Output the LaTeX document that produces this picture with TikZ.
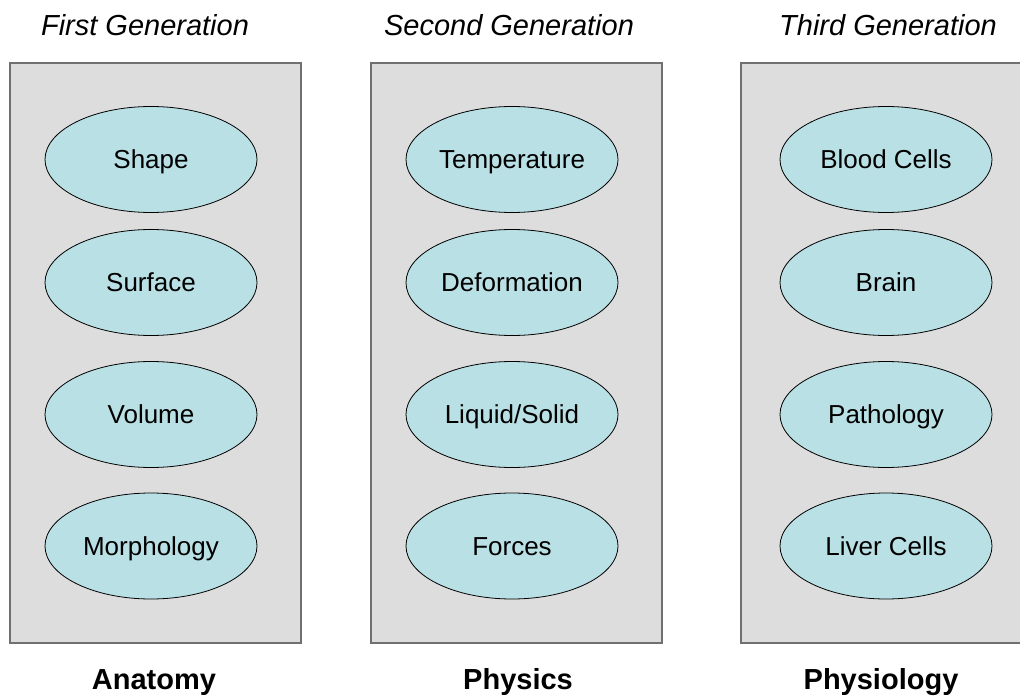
\documentclass[tikz,border=0pt]{standalone}
\usepackage{fontspec}
\setmainfont{Liberation Sans}
\usetikzlibrary{shapes.geometric}
\definecolor{panelgray}{HTML}{DDDDDD}
\definecolor{panelline}{HTML}{707070}
\definecolor{cellteal}{HTML}{B9E0E4}
\tikzset{
  panel/.style={draw=panelline, line width=1.4pt, fill=panelgray},
  cell/.style={ellipse, draw=black, line width=0.8pt, fill=cellteal,
    minimum width=212pt, minimum height=106pt, inner sep=0pt,
    font=\fontsize{26}{30}\selectfont, text height=18.6pt, text depth=0pt},
  gentitle/.style={anchor=base, inner sep=0pt, font=\fontsize{29}{34}\selectfont\itshape},
  fieldname/.style={anchor=base, inner sep=0pt, font=\fontsize{29}{34}\selectfont\bfseries}
}
\begin{document}
\begin{tikzpicture}[x=1pt, y=-1pt]
\useasboundingbox (0,0) rectangle (1020,698);
\clip (0,0) rectangle (1020,698);

% the three columns
\draw[panel] (10,63) rectangle (301,643);
\draw[panel] (371,63) rectangle (662,643);
\draw[panel] (741,63) rectangle (1032,643);

% column headings
\node[gentitle] (t1) at (145,36) {First Generation};
\node[gentitle] (t2) at (509,36) {Second Generation};
\node[gentitle] (t3) at (888,36) {Third Generation};

% first column
\node[cell] (shape) at (151,159.5) {Shape};
\node[cell] (surface) at (151,282.5) {Surface};
\node[cell] (volume) at (151,414.5) {Volume};
\node[cell] (morph) at (151,546) {Morphology};

% second column
\node[cell] (temp) at (512,159.5) {Temperature};
\node[cell] (deform) at (512,282.5) {Deformation};
\node[cell] (liquid) at (512,414.5) {Liquid/Solid};
\node[cell] (forces) at (512,546) {Forces};

% third column
\node[cell] (blood) at (886,159.5) {Blood Cells};
\node[cell] (brain) at (886,282.5) {Brain};
\node[cell] (patho) at (886,414.5) {Pathology};
\node[cell] (liver) at (886,546) {Liver Cells};

% field names
\node[fieldname] (f1) at (154,689) {Anatomy};
\node[fieldname] (f2) at (518,689) {Physics};
\node[fieldname] (f3) at (881,689) {Physiology};
\end{tikzpicture}
\end{document}
